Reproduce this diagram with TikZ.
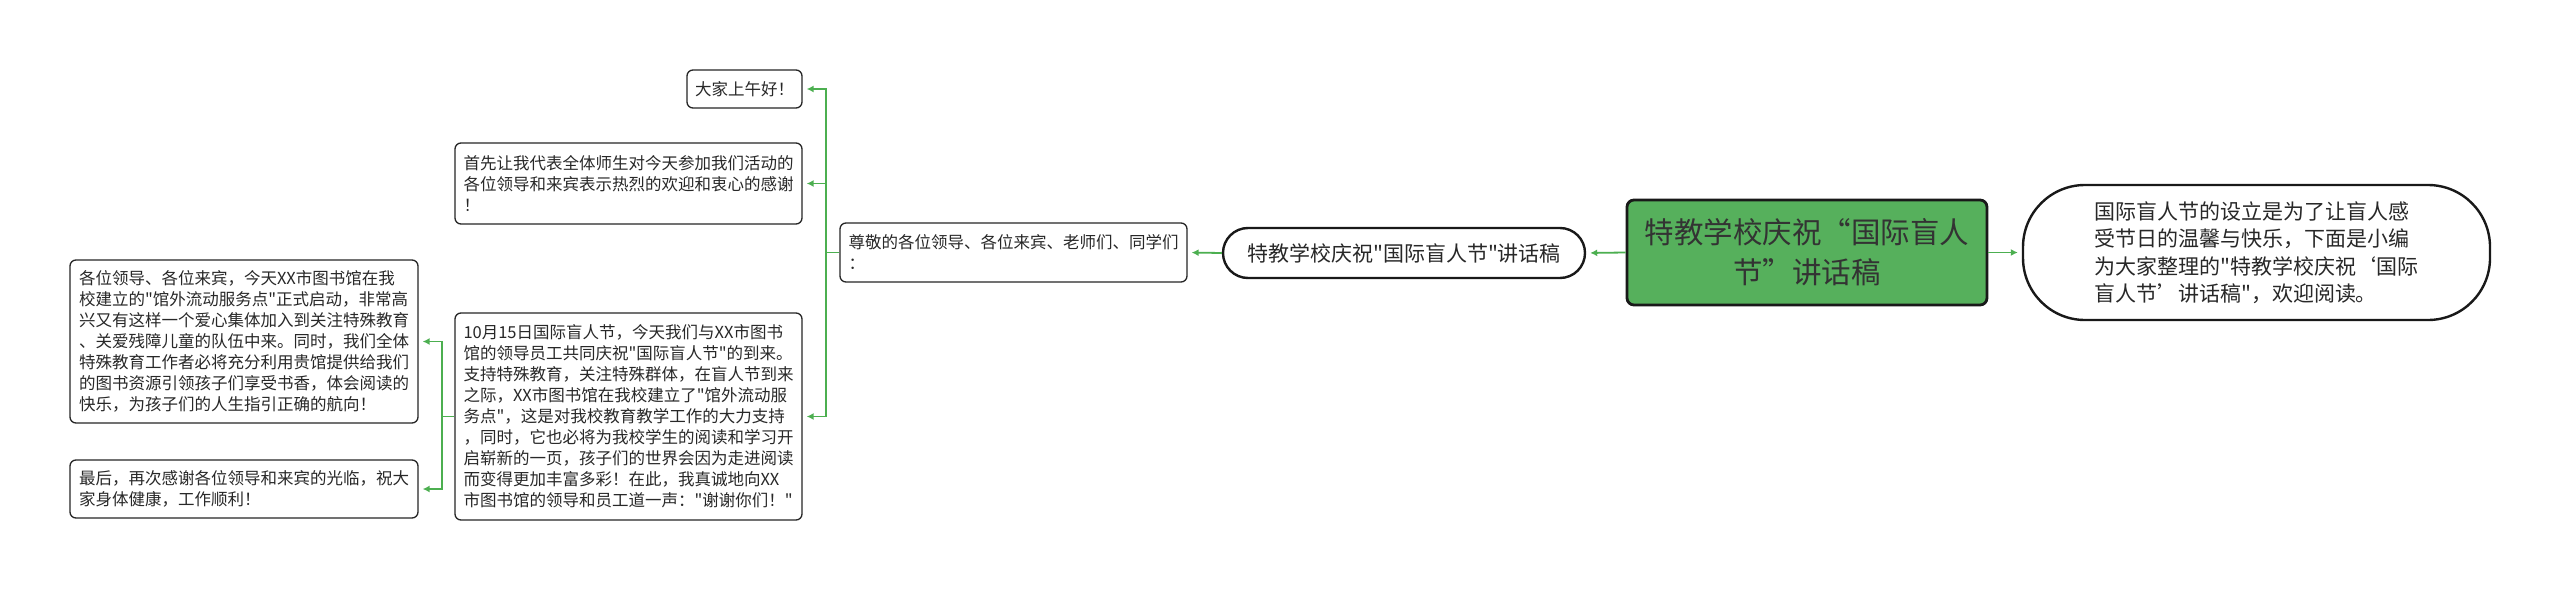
\documentclass[tikz,border=0pt]{standalone}
\usepackage{fontspec}
\setmainfont{Noto Sans CJK SC}[Ligatures=TeXOff]
\usetikzlibrary{arrows.meta}
\definecolor{lnk}{RGB}{76,175,80}
\definecolor{rootg}{RGB}{86,176,92}
\definecolor{txt}{RGB}{40,40,40}
\begin{document}
\begin{tikzpicture}[x=1pt,y=-1pt,
  box/.style={draw=black!85, line width=1.3pt, rounded corners=6pt, fill=white, align=left, text=txt, font=\fontsize{16.5}{21}\selectfont, inner sep=0pt},
  rootbox/.style={draw=black!90, line width=2.8pt, rounded corners=7pt, fill=rootg, align=center, text=black!80, font=\fontsize{29.5}{40}\selectfont, inner sep=0pt},
  pill/.style={draw=black!90, line width=2.4pt, fill=white, align=left, text=txt, font=\fontsize{21}{27.5}\selectfont, inner sep=0pt},
  link/.style={draw=lnk, line width=1.8pt, -{Latex[length=7pt,width=7pt]}, shorten >=4pt}]
\useasboundingbox[fill=white] (0,0) rectangle (2560,591);
% nodes
\node[rootbox, minimum width=360pt, minimum height=105pt] (root) at (1807,252.5) {特教学校庆祝“国际盲人\\节”讲话稿};
\node[pill, rounded corners=62pt, minimum width=467pt, minimum height=135pt] (intro) at (2256.5,252.5) {国际盲人节的设立是为了让盲人感\\受节日的温馨与快乐，下面是小编\\为大家整理的"特教学校庆祝‘国际\\盲人节’讲话稿"，欢迎阅读。};
\node[pill, rounded corners=25pt, minimum width=362pt, minimum height=50pt] (title) at (1404,253) {特教学校庆祝"国际盲人节"讲话稿};
\node[box, minimum width=347pt, minimum height=59pt] (greet) at (1013.5,252.5) {尊敬的各位领导、各位来宾、老师们、同学们\\：};
\node[box, minimum width=115pt, minimum height=38pt] (hello) at (744.5,89) {大家上午好！};
\node[box, minimum width=347pt, minimum height=81pt] (first) at (628.5,183.5) {首先让我代表全体师生对今天参加我们活动的\\各位领导和来宾表示热烈的欢迎和衷心的感谢\\！};
\node[box, minimum width=347pt, minimum height=207pt] (oct) at (628.5,416.5) {10月15日国际盲人节，今天我们与XX市图书\\馆的领导员工共同庆祝"国际盲人节"的到来。\\支持特殊教育，关注特殊群体，在盲人节到来\\之际，XX市图书馆在我校建立了"馆外流动服\\务点"，这是对我校教育教学工作的大力支持\\，同时，它也必将为我校学生的阅读和学习开\\启崭新的一页，孩子们的世界会因为走进阅读\\而变得更加丰富多彩！在此，我真诚地向XX\\市图书馆的领导和员工道一声："谢谢你们！"};
\node[box, minimum width=348pt, minimum height=163pt] (leaders) at (244,341.5) {各位领导、各位来宾，今天XX市图书馆在我\\校建立的"馆外流动服务点"正式启动，非常高\\兴又有这样一个爱心集体加入到关注特殊教育\\、关爱残障儿童的队伍中来。同时，我们全体\\特殊教育工作者必将充分利用贵馆提供给我们\\的图书资源引领孩子们享受书香，体会阅读的\\快乐，为孩子们的人生指引正确的航向！};
\node[box, minimum width=348pt, minimum height=58pt] (last) at (244,489) {最后，再次感谢各位领导和来宾的光临，祝大\\家身体健康，工作顺利！};
% connectors
\draw[link] (root.east) -- (intro.west);
\draw[link] (root.west) -- (title.east);
\draw[link] (title.west) -- (greet.east);
\draw[link] (greet.west) -- ++(-13,0) |- (hello.east);
\draw[link] (greet.west) -- ++(-13,0) |- (first.east);
\draw[link] (greet.west) -- ++(-13,0) |- (oct.east);
\draw[link] (oct.west) -- ++(-12,0) |- (leaders.east);
\draw[link] (oct.west) -- ++(-12,0) |- (last.east);
\end{tikzpicture}
\end{document}
